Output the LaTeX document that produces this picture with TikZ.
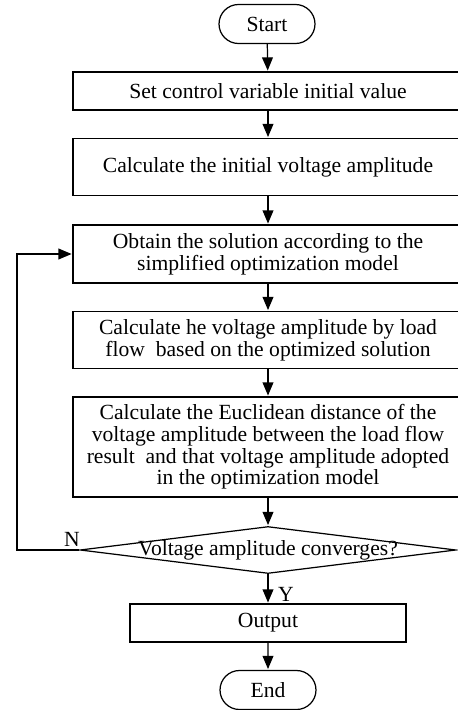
\documentclass[tikz,border=0pt]{standalone}
\usepackage{fontspec}
\setmainfont{Liberation Serif}
\usetikzlibrary{arrows,%
                shapes.geometric,%
                shapes.misc}

\begin{document}
\begin{tikzpicture}[x=0.02cm, y=-0.02cm, >=triangle 45, line width=0.7pt]
  \tikzstyle{every node} = [font = \fontsize{12.3}{12.4}\selectfont,
                            align = center,
                            inner sep = 0]
  \tikzstyle{term} = [draw, rounded rectangle, minimum width = 1.92cm, minimum height = 0.78cm]
  \tikzstyle{proc} = [draw, rectangle, minimum width = 7.8cm]
  \tikzstyle{decide} = [draw, diamond, minimum width = 7.52cm, minimum height = 0.94cm]
  \tikzstyle{flow} = [->, shorten >=0.5pt]
\useasboundingbox (0,0) rectangle (457,710);

\node[term] (start) at (267,24) {Start};
\node[proc, minimum height = 0.76cm] (init) at (268,91) {Set control variable initial value};
\node[proc, minimum height = 1.14cm] (amp) at (268,167) {Calculate the initial voltage amplitude};
\node[proc, minimum height = 1.16cm] (solve) at (268,254)
  {Obtain the solution according to the\\ simplified optimization model};
\node[proc, minimum height = 1.14cm] (flow) at (268,340)
  {Calculate he voltage amplitude by load\\ flow \ based on the optimized solution};
\node[proc, minimum height = 2.0cm] (dist) at (268,447)
  {Calculate the Euclidean distance of the\\ voltage amplitude between the load flow\\
   result \ and that voltage amplitude adopted\\ in the optimization model};
\node[decide] (conv) at (268,550) {\makebox[0pt]{\raisebox{-2pt}{Voltage amplitude converges?}}};
\node[proc, minimum width = 5.52cm, minimum height = 0.76cm] (out) at (268,623) {Output};
\node[term] (end) at (268,690) {End};

% branch labels
\node (no) at (72,539) {N};
\node (yes) at (286,594) {Y};

\draw[flow] (start) -- (init);
\draw[flow] (init) -- (amp);
\draw[flow] (amp) -- (solve);
\draw[flow] (solve) -- (flow);
\draw[flow] (flow) -- (dist);
\draw[flow] (dist) -- (conv);
\draw[flow] (conv) -- (out);
\draw[flow] (out) -- (end);

% loop back when not converged
\coordinate (loop) at (17,550);
\draw[flow] (conv.west) -- (loop) |- (solve.west);

\end{tikzpicture}
\end{document}
